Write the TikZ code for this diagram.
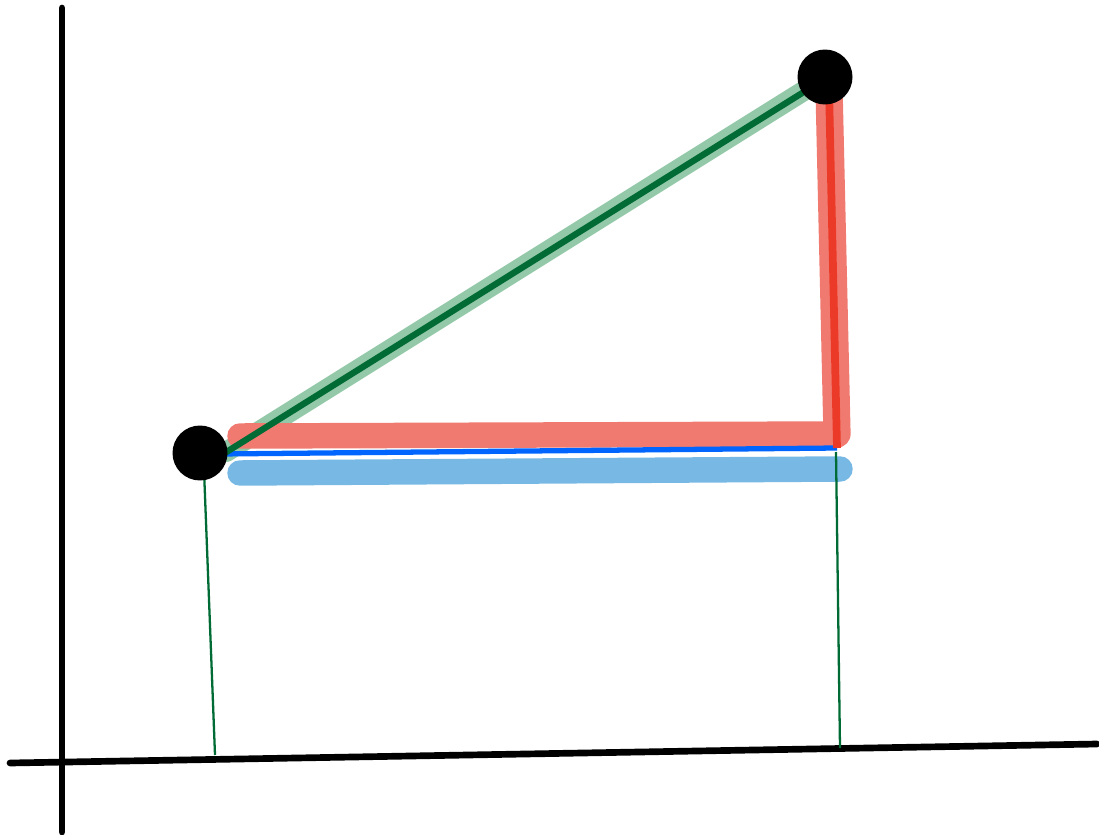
\documentclass[tikz,border=0pt]{standalone}
\usepackage{xcolor}
\usepackage{tikz}
\usetikzlibrary{calc}
\definecolor{ink}{HTML}{000000}
\definecolor{pine}{HTML}{006B35}
\definecolor{sage}{HTML}{93C8A8}
\definecolor{coral}{HTML}{F07A70}
\definecolor{scarlet}{HTML}{EB3B28}
\definecolor{azure}{HTML}{0064FF}
\definecolor{sky}{HTML}{78B8E4}
\tikzset{
  axisline/.style={draw=ink, line width=3.8pt, line cap=round},
  dot/.style={circle, fill=ink, minimum size=1.1cm, inner sep=0pt},
  hilite/.style={draw=#1, line width=14.5pt, line cap=round},
  hilite/.default=coral,
  coreline/.style={draw=#1, line width=3.6pt, line cap=round},
  coreline/.default=pine,
  dropline/.style={draw=pine, line width=1.3pt},
}
\begin{document}
\begin{tikzpicture}[x=0.02cm, y=-0.02cm]
  \useasboundingbox (0,0) rectangle (1099,835);
  % axes
  \coordinate (ytop) at (62,8);
  \coordinate (ybot) at (62,832);
  \coordinate (xleft) at (10,763);
  \coordinate (xright) at (1097,744);
  \draw[axisline] (ytop) -- (ybot);
  \draw[axisline] (xleft) -- (xright);
  % corners of the triangle
  \coordinate (corner) at (837,434);
  \coordinate (hstart) at (240,436);
  \coordinate (bstart) at (218,454);
  \coordinate (bend) at (837,448);
  \coordinate (lbstart) at (240,473);
  \coordinate (lbend) at (840,469);
  \coordinate (vtop) at (829,88);
  \coordinate (sstart) at (226,452);
  \coordinate (send) at (818,82);
  \coordinate (gstart) at (220,456);
  \coordinate (gend) at (815,85);
  \coordinate (ftop) at (204,470);
  \coordinate (ffoot) at (215,755);
  \coordinate (gtop) at (836,452);
  \coordinate (gfoot) at (840,748);
  % highlights
  \draw[hilite=sage, line width=11.5pt] (sstart) -- (send);
  \draw[hilite] (hstart) -- (corner);
  \draw[hilite, line width=15.5pt] (vtop) -- (corner);
  \draw[hilite=sky] (lbstart) -- (lbend);
  \draw[coreline=azure, line width=3pt, line cap=butt] (bstart) -- (bend);
  \draw[coreline=scarlet, line width=4.4pt, line cap=butt] (vtop) -- (bend);
  \draw[coreline] (gstart) -- (gend);
  % drop lines
  \draw[dropline] (ftop) -- (ffoot);
  \draw[dropline] (gtop) -- (gfoot);
  % points
  \node[dot] (pa) at (200,453) {};
  \node[dot] (pb) at (825,77) {};
\end{tikzpicture}
\end{document}
